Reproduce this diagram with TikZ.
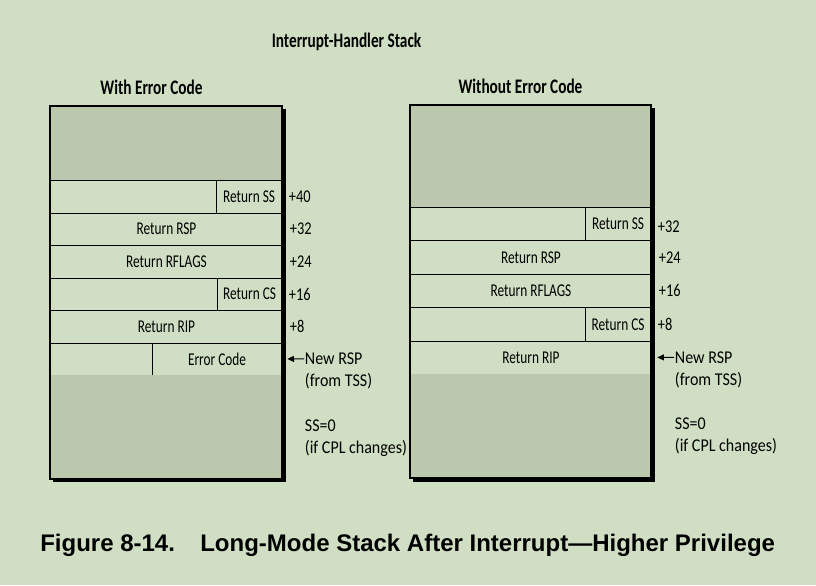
\documentclass[tikz,border=0pt]{standalone}
\usepackage{fontspec}
\setmainfont{Carlito}
\newfontfamily\slotfont[FakeStretch=0.74]{Carlito}
\newfontfamily\offfont[FakeStretch=0.8]{Carlito}
\newfontfamily\notefont[FakeStretch=0.89]{Carlito}
\newfontfamily\capfont{Liberation Sans}
\usepackage{tikz}
\usetikzlibrary{arrows.meta}
\usetikzlibrary{positioning}
\definecolor{stackbg}{RGB}{208,223,196}
\definecolor{stackgray}{RGB}{187,200,174}
\tikzset{
slot/.style = { rectangle, draw = black, line width = 0.7pt, fill = stackbg, inner sep = 0pt, anchor = north west, font = {\slotfont\fontsize{13.5pt}{15pt}\selectfont} },
lrow/.style = { slot, minimum width = 174pt, minimum height = 24.375pt },
rrow/.style = { slot, minimum width = 180.75pt, minimum height = 25.05pt },
lcell/.style = { slot, anchor = north east, minimum width = #1, minimum height = 24.375pt },
rcell/.style = { slot, anchor = north east, minimum width = #1, minimum height = 25.05pt },
offset/.style = { anchor = west, inner sep = 0pt, font = {\offfont\fontsize{13.5pt}{15pt}\selectfont} },
note/.style = { anchor = west, inner sep = 0.5pt, font = {\notefont\fontsize{13.5pt}{15pt}\selectfont} },
head/.style = { inner sep = 0pt, font = {\slotfont\bfseries\fontsize{15.5pt}{17pt}\selectfont} },
frame/.style = { draw = black, line width = 1.4pt },
shadow/.style = { fill = black },
}

\begin{document}
\begin{tikzpicture}[x=0.75pt, y=-0.75pt]
      \fill[stackbg] (0,0) rectangle (816,585);
      \useasboundingbox (0,0) rectangle (816,585);
      \node[head] (title) at (346.5,42) {Interrupt-Handler Stack};
      \node[head] (lhead) at (151.5,87) {With Error Code};
      \node[head] (rhead) at (520.5,86) {Without Error Code};
      % with error code
      \fill[shadow] (53,109) rectangle (285.5,482);
      \fill[stackgray] (50,106) rectangle (282,180);
      \node[lrow] (lssrow) at (50,180) {};
      \node[lcell=48.75pt] (lss) at (282,180) {Return SS};
      \node[lrow] (lrsp) at (50,212.5) {Return RSP};
      \node[lrow] (lflags) at (50,245) {Return RFLAGS};
      \node[lrow] (lcsrow) at (50,277.5) {};
      \node[lcell=48pt] (lcs) at (282,277.5) {Return CS};
      \node[lrow] (lrip) at (50,310) {Return RIP};
      \node[lrow] (lecrow) at (50,342.5) {};
      \node[lcell=96.75pt] (lec) at (282,342.5) {Error Code};
      \fill[stackgray] (50,375) rectangle (282,479);
      \draw[frame] (50,106) rectangle (282,479);
      \node[offset, right=5pt of lss] (l40) {+40};
      \node[offset, right=5pt of lrsp] (l32) {+32};
      \node[offset, right=5pt of lflags] (l24) {+24};
      \node[offset, right=5pt of lcs] (l16) {+16};
      \node[offset, right=5pt of lrip] (l8) {+8};
      \node[note] (lnew) at (304,358.75) {New RSP};
      \node[note] (lfrom) at (304,381) {(from TSS)};
      \node[note] (lss0) at (304,426) {SS=0};
      \node[note] (lcpl) at (304,448) {(if CPL changes)};
      \draw[-{Triangle[length=5pt, width=4.5pt]}, line width=0.7pt, shorten >=4pt] (lnew) -- (lec);
      % without error code
      \fill[shadow] (413,108) rectangle (654.5,481.5);
      \fill[stackgray] (410,105) rectangle (651,207);
      \node[rrow] (rssrow) at (410,207) {};
      \node[rcell=48.75pt] (rss) at (651,207) {Return SS};
      \node[rrow] (rrsp) at (410,240.4) {Return RSP};
      \node[rrow] (rflags) at (410,273.8) {Return RFLAGS};
      \node[rrow] (rcsrow) at (410,307.2) {};
      \node[rcell=48.75pt] (rcs) at (651,307.2) {Return CS};
      \node[rrow] (rrip) at (410,340.6) {Return RIP};
      \fill[stackgray] (410,374) rectangle (651,478);
      \draw[frame] (410,105) rectangle (651,478);
      \node[offset, right=5pt of rss, yshift=-2pt] (r32) {+32};
      \node[offset, right=5pt of rrsp] (r24) {+24};
      \node[offset, right=5pt of rflags] (r16) {+16};
      \node[offset, right=5pt of rcs] (r8) {+8};
      \node[note] (rnew) at (674,357.3) {New RSP};
      \node[note] (rfrom) at (674,380) {(from TSS)};
      \node[note] (rss0) at (674,424) {SS=0};
      \node[note] (rcpl) at (674,446) {(if CPL changes)};
      \draw[-{Triangle[length=5pt, width=4.5pt]}, line width=0.7pt, shorten >=4pt] (rnew) -- (rrip);
      \node[anchor=west, inner sep=0pt, font={\capfont\bfseries\fontsize{18pt}{20pt}\selectfont}] (caption) at (40,545) {Figure 8-14.\hspace{19pt}Long-Mode Stack After Interrupt—Higher Privilege};
    \end{tikzpicture}
\end{document}
